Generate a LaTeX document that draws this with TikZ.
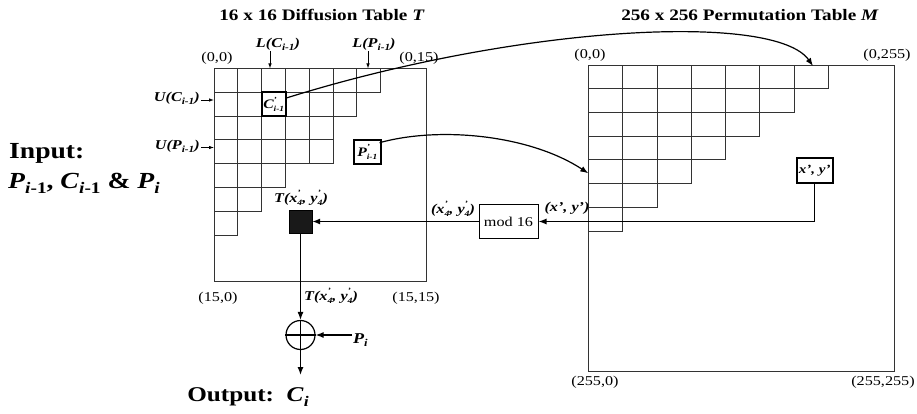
\documentclass[tikz,border=0pt]{standalone}
\usepackage{fontspec}
\setmainfont{Liberation Serif}[FakeStretch=1.2]
\usetikzlibrary{arrows.meta}
\newcommand{\sbx}[1]{\raisebox{-0.45ex}{\scalebox{0.7}{#1}}}
\newcommand{\psb}[2]{\mbox{\rlap{\raisebox{1.1ex}{\scalebox{0.6}{#1}}}\raisebox{-0.5ex}{\scalebox{0.6}{#2}}}}
\begin{document}
\begin{tikzpicture}[x=1pt,y=-1pt,
  gridl/.style={draw=black!80,line width=0.8pt},
  thickbox/.style={draw=black,line width=2pt,minimum width=24pt,minimum height=24pt,inner sep=0pt},
  arr/.style={line width=1.2pt,-{Latex[length=8pt,width=6pt]}},
  sarr/.style={line width=0.8pt,-{Latex[length=5pt,width=3.5pt]}},
  coordl/.style={font=\fontsize{13.5}{14}\selectfont,inner sep=0pt},
  small/.style={font=\fontsize{13.5}{14}\selectfont\bfseries\itshape,inner sep=1pt},
  title/.style={font=\fontsize{16}{18}\selectfont\bfseries,inner sep=0pt}]
\useasboundingbox (0,0) rectangle (917,414);
\fill[white] (0,0) rectangle (917,414);

% titles
\node[title] (t1) at (322,15) {16 x 16 Diffusion Table \textit{T}};
\node[title] (t2) at (750,15) {256 x 256 Permutation Table \textit{M}};

% left table
\def\lx{214}\def\ly{68.5}\def\lc{23.8}
\foreach \r/\n in {0/7,1/6,2/5,3/5,4/3,5/2,6/1}{
  \foreach \c in {1,...,\n}{
    \draw[gridl] ({\lx+(\c-1)*\lc},{\ly+\r*\lc}) rectangle ++(\lc,\lc);
  }
}
\draw[gridl] (214,68.5) rectangle (426.5,281);

% right table
\def\rx{588.3}\def\ry{65}\def\rcw{34.3}\def\rch{23.7}
\foreach \r/\n in {0/7,1/6,2/5,3/4,4/3,5/2,6/1}{
  \foreach \c in {1,...,\n}{
    \draw[gridl] ({\rx+(\c-1)*\rcw},{\ry+\r*\rch}) rectangle ++(\rcw,\rch);
  }
}
\draw[gridl] (588.3,65) rectangle (894,371);

% corner labels
\node[coordl] (c00) at (217,58) {(0,0)};
\node[coordl] (c015) at (419,58) {(0,15)};
\node[coordl] (c150) at (218,298) {(15,0)};
\node[coordl] (c1515) at (416,298) {(15,15)};
\node[coordl] (m00) at (590,55) {(0,0)};
\node[coordl] (m0255) at (887,55) {(0,255)};
\node[coordl] (m2550) at (595,382) {(255,0)};
\node[coordl] (m255255) at (883,382) {(255,255)};

% L and U labels
\node[small] (lC) at (278,44) {L(C\sbx{i-1})};
\node[small] (lP) at (374,44) {L(P\sbx{i-1})};
\coordinate (lCt) at (270,68.5);
\coordinate (lPt) at (368,68.5);
\draw[sarr] (lCt |- lC.south) -- (lCt);
\draw[sarr] (lPt |- lP.south) -- (lPt);
\node[small,anchor=east] (uC) at (201,98) {U(C\sbx{i-1})};
\node[small,anchor=east] (uP) at (201,146) {U(P\sbx{i-1})};
\coordinate (uCt) at (214,100);
\coordinate (uPt) at (214,147.5);
\draw[sarr] (uC.east |- uCt) -- (uCt);
\draw[sarr] (uP.east |- uPt) -- (uPt);

% boxes
\node[thickbox,font=\fontsize{13}{13}\selectfont\bfseries\itshape] (cb) at (273.7,104.2) {C\psb{'}{i-1}};
\node[thickbox,minimum width=26.5pt,font=\fontsize{13}{13}\selectfont\bfseries\itshape] (pb) at (367.3,151.7) {P\psb{'}{i-1}};
\node[draw=black,fill=black!90,minimum size=23pt,inner sep=0pt] (blk) at (300.5,221.5) {};
\node[draw=black,line width=1pt,minimum width=59pt,minimum height=34pt,inner sep=0pt,font=\fontsize{13.5}{14}\selectfont] (mod) at (508.5,221.5) {mod 16};
\node[thickbox,minimum width=36pt,minimum height=25pt,font=\fontsize{12.5}{13}\selectfont\bfseries\itshape] (xy) at (814.7,170.5) {x', y'};

\node[small] (tl1) at (301,198) {T(x\psb{'}{4}, y\psb{'}{4})};
\node[small] (xl4) at (453,209) {(x\psb{'}{4}, y\psb{'}{4})};
\node[small] (xyl) at (567,208) {(x', y')};

% connectors
\draw[arr] (xy.south) |- (mod.east);
\draw[arr] (mod.west) -- (blk.east);

\node[draw=black,line width=1.2pt,circle,minimum size=29pt,inner sep=0pt] (xr) at (300.5,335) {};
\draw[line width=1.2pt] (xr.north) -- (xr.south) (xr.west) -- (xr.east);
\draw[arr] (blk.south) -- (xr.north);
\node[small,anchor=west] (tl2) at (303,296) {T(x\psb{'}{4}, y\psb{'}{4})};
\node[font=\fontsize{15}{16}\selectfont\bfseries\itshape,anchor=west,inner sep=1pt] (pi) at (352,340) {P\sbx{i}};
\draw[arr] (pi.west |- xr.east) -- (xr.east);
\coordinate (outt) at (300.5,375);
\draw[arr] (xr.south) -- (outt);
\node[font=\fontsize{21}{24}\selectfont\bfseries,inner sep=0pt] (out) at (248,397) {Output:\ \ \textit{C}\sbx{\textit{i}}};

% input
\node[font=\fontsize{23}{26}\selectfont\bfseries,anchor=base west,inner sep=0pt] (in1) at (9,159) {Input:};
\node[font=\fontsize{23}{26}\selectfont\bfseries,anchor=base west,inner sep=0pt] (in2) at (8,189) {\textit{P}\sbx{\textit{i}-1}, \textit{C}\sbx{\textit{i}-1} \& \textit{P}\sbx{\textit{i}}};

% curves
\coordinate (mtop) at (813,66);
\coordinate (mleft) at (588.3,173.3);
\draw[arr] ([yshift=6pt,xshift=-1pt]cb.east) .. controls (520,25) and (775,12) .. (mtop);
\draw[arr] ([yshift=9pt,xshift=-2pt]pb.east) .. controls (440,126) and (530,135) .. (mleft);
\end{tikzpicture}
\end{document}
